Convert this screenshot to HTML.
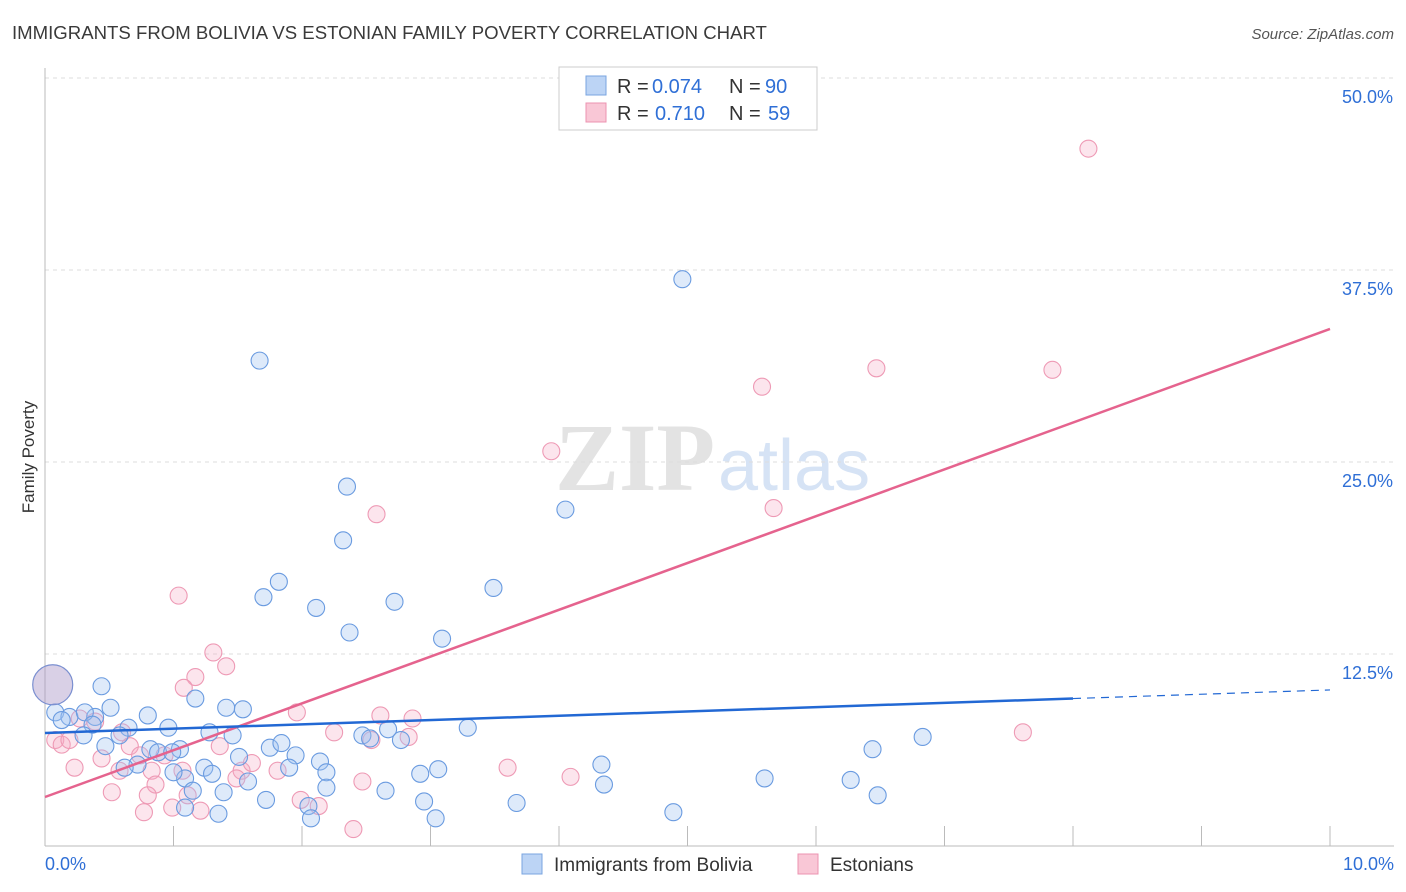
<!DOCTYPE html>
<html><head><meta charset="utf-8"><style>
body{margin:0;background:#fff;font-family:"Liberation Sans",sans-serif}
</style></head><body>
<svg id="c" width="1406" height="892" xmlns="http://www.w3.org/2000/svg" style="display:block">
<text x="12" y="39" font-size="18.6" fill="#3a3a3a">IMMIGRANTS FROM BOLIVIA VS ESTONIAN FAMILY POVERTY CORRELATION CHART</text>
<text x="1394" y="39" font-size="15" fill="#555" text-anchor="end" font-style="italic">Source: ZipAtlas.com</text>
<text x="34" y="457" font-size="17" fill="#333" text-anchor="middle" transform="rotate(-90 34 457)">Family Poverty</text>
<g><text x="555" y="490" font-size="96" fill="#e3e3e3" font-family="Liberation Serif,serif" font-weight="bold">ZIP</text><text x="718" y="490" font-size="72" fill="#d6e3f5">atlas</text></g>
<g id="grid"></g><g id="marks"></g><g id="trend"></g>
<g>
<rect x="559" y="67" width="258" height="63" fill="#fff" stroke="#ccc"/>
<rect x="586" y="76" width="20" height="19" fill="#bcd4f5" stroke="#7aa5e0"/>
<rect x="586" y="103" width="20" height="19" fill="#f9c7d6" stroke="#ec93b0"/>
<text x="617" y="93" font-size="20" fill="#333">R =</text><text x="652" y="93" font-size="20" fill="#2f6fd6">0.074</text>
<text x="729" y="93" font-size="20" fill="#333">N =</text><text x="765" y="93" font-size="20" fill="#2f6fd6">90</text>
<text x="617" y="120" font-size="20" fill="#333">R =</text><text x="655" y="120" font-size="20" fill="#2f6fd6">0.710</text>
<text x="729" y="120" font-size="20" fill="#333">N =</text><text x="768" y="120" font-size="20" fill="#2f6fd6">59</text>
</g>
<g>
<rect x="522" y="854" width="20" height="20" fill="#bcd4f5" stroke="#7aa5e0"/>
<text x="554" y="871" font-size="19" fill="#333">Immigrants from Bolivia</text>
<rect x="798" y="854" width="20" height="20" fill="#f9c7d6" stroke="#ec93b0"/>
<text x="830" y="871" font-size="19" fill="#333">Estonians</text>
</g>
</svg>
<script>
const xTicks=[0,1,2,3,4,5,6,7,8,9,10];
const yTicks=[12.5,25,37.5,50];
const yTickLabels=["12.5%","25.0%","37.5%","50.0%"];
const blueX=[4.96,1.67,2.35,4.05,2.32,1.82,3.49,1.70,2.72,2.11,2.37,3.09,0.44,1.17,0.51,1.41,1.54,0.80,0.08,0.19,0.39,0.31,0.13,0.37,0.65,0.96,3.29,0.30,0.58,1.28,1.46,0.47,0.82,1.05,0.88,0.99,1.75,1.84,1.95,2.67,2.47,2.53,0.72,0.62,1.24,1.30,1.09,1.00,1.51,1.58,1.90,2.14,2.19,2.77,3.06,2.92,2.65,2.19,1.15,1.39,1.72,1.09,1.35,2.05,2.07,2.95,3.04,3.67,4.89,6.48,4.33,4.35,5.60,6.27,6.83,6.44];
const blueY=[36.9,31.6,23.4,21.9,19.9,17.2,16.8,16.2,15.9,15.5,13.9,13.5,10.4,9.6,9.0,9.0,8.9,8.5,8.7,8.4,8.4,8.7,8.2,7.9,7.7,7.7,7.7,7.2,7.2,7.4,7.2,6.5,6.3,6.3,6.1,6.1,6.4,6.7,5.9,7.6,7.2,7.0,5.3,5.1,5.1,4.7,4.4,4.8,5.8,4.2,5.1,5.5,4.8,6.9,5.0,4.7,3.6,3.8,3.6,3.5,3.0,2.5,2.1,2.6,1.8,2.9,1.8,2.8,2.2,3.3,5.3,4.0,4.4,4.3,7.1,6.3];
const pinkX=[8.12,5.58,6.47,7.84,3.94,5.67,2.58,1.04,1.31,1.41,1.17,1.08,0.08,0.13,0.19,0.27,0.39,0.60,0.66,0.74,0.23,0.44,0.58,0.83,0.93,1.07,1.36,1.53,1.61,1.81,0.86,0.80,0.52,1.21,0.99,0.77,1.11,1.99,2.13,2.40,2.47,3.60,4.09,1.49,1.96,2.61,2.86,2.25,2.83,2.54,7.61];
const pinkY=[45.4,29.9,31.1,31.0,25.7,22.0,21.6,16.3,12.6,11.7,11.0,10.3,6.9,6.6,6.9,8.3,8.1,7.4,6.5,5.9,5.1,5.7,4.9,4.9,5.9,4.9,6.5,4.9,5.4,4.9,4.0,3.3,3.5,2.3,2.5,2.2,3.3,3.0,2.6,1.1,4.2,5.1,4.5,4.4,8.7,8.5,8.3,7.4,7.1,6.9,7.4];
const blueTrend=[7.36,10.16];
const pinkTrend=[3.19,33.66];
const NS="http://www.w3.org/2000/svg";
const sx=v=>45+v*128.5, sy=v=>846-v*15.36;
function mk(t,a,p){const e=document.createElementNS(NS,t);for(const k in a)e.setAttribute(k,a[k]);p.appendChild(e);return e;}
const g=document.getElementById('grid');
yTicks.forEach((t,i)=>{
 const l=mk('line',{x1:45,x2:1394,y1:sy(t),y2:sy(t),stroke:'#ddd','stroke-dasharray':'4 4'},g);
 
 
 const tx=mk('text',{x:1393,y:sy(t)+25,'font-size':18,fill:'#2f6fd6','text-anchor':'end'},g);tx.textContent=yTickLabels[i];
 
 
});
mk('line',{x1:45,x2:45,y1:68,y2:846,stroke:'#bbb'},g);
mk('line',{x1:45,x2:1394,y1:846,y2:846,stroke:'#bbb'},g);
xTicks.forEach(t=>{if(t>0){const l=mk('line',{x1:sx(t),x2:sx(t),y1:826,y2:846,stroke:'#bbb'},g);
 
 }});
const x0=mk('text',{x:45,y:870,'font-size':18,fill:'#2f6fd6'},g);x0.textContent='0.0%';


const x1=mk('text',{x:1394,y:870,'font-size':18,fill:'#2f6fd6','text-anchor':'end'},g);x1.textContent='10.0%';


const m=document.getElementById('marks');
pinkX.forEach((x,i)=>{const c=mk('circle',{cx:sx(x),cy:sy(pinkY[i]),r:8.5,fill:'rgba(246,170,195,0.3)',stroke:'#ee9ab5','stroke-width':1.1},m);
 
 });
blueX.forEach((x,i)=>{const c=mk('circle',{cx:sx(x),cy:sy(blueY[i]),r:8.5,fill:'rgba(160,195,240,0.35)',stroke:'#6a9be0','stroke-width':1.1},m);
 
 });
const big=mk('circle',{cx:sx(0.06),cy:sy(10.5),r:20,fill:'rgba(170,150,200,0.45)',stroke:'#7a8fd0','stroke-width':1.2},m);


const tr=document.getElementById('trend');
const by=x=>blueTrend[0]+(blueTrend[1]-blueTrend[0])*x/10;
const pt=mk('line',{x1:sx(0),y1:sy(pinkTrend[0]),x2:sx(10),y2:sy(pinkTrend[1]),stroke:'#e5638e','stroke-width':2.5},tr);


const bt=mk('line',{x1:sx(0),y1:sy(by(0)),x2:sx(8),y2:sy(by(8)),stroke:'#2268d4','stroke-width':2.5},tr);


const bd=mk('line',{x1:sx(8),y1:sy(by(8)),x2:sx(10),y2:sy(by(10)),stroke:'#2268d4','stroke-width':1.2,'stroke-dasharray':'8 6'},tr);


</script>
</body></html>
